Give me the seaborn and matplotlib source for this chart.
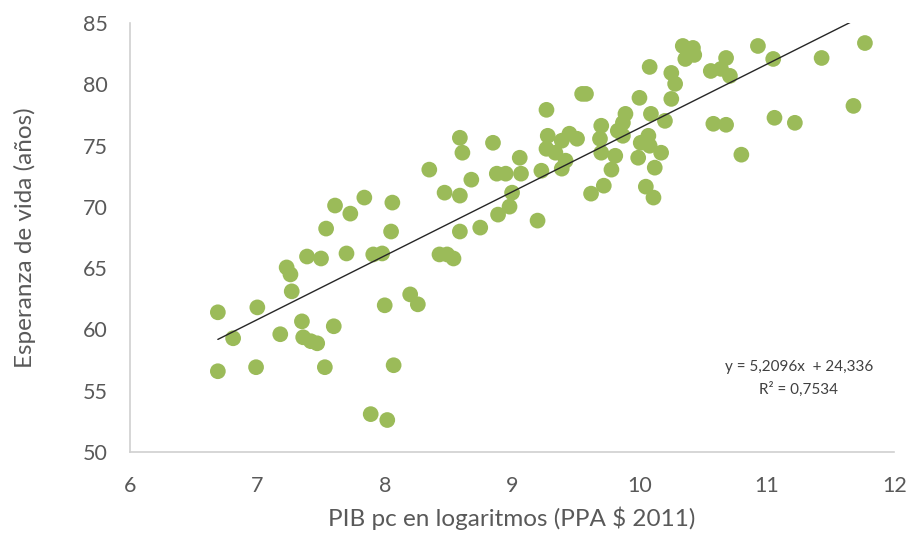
import numpy as np
import pandas as pd
import matplotlib
matplotlib.use("Agg")
import matplotlib.pyplot as plt
import seaborn as sns

# --- data ---
pib_log = [
    6.69, 6.69, 6.81, 7.00, 6.99, 7.18, 7.23, 7.26, 7.27, 7.35,
    7.36, 7.39, 7.42, 7.47, 7.50, 7.53, 7.54, 7.60, 7.61, 7.73,
    7.70, 7.84, 7.89, 7.91, 7.98, 8.00, 8.02, 8.05, 8.06, 8.07,
    8.20, 8.26,
    8.35, 8.47, 8.43, 8.49, 8.54, 8.59, 8.61, 8.59, 8.59, 8.68,
    8.75, 8.85, 8.88, 8.89, 8.95, 8.98, 9.00, 9.06, 9.07, 9.20,
    9.23, 9.27, 9.55, 9.58, 9.28, 9.27, 9.39, 9.45, 9.51, 9.34,
    9.42, 9.39, 9.70, 9.69, 9.70, 9.81, 9.78, 9.72, 9.62, 9.89,
    9.87, 9.83, 9.87, 10.00, 10.09, 10.20, 10.07, 10.01, 10.08, 9.99,
    10.17, 10.12, 10.05, 10.11, 10.28, 10.25,
    10.34, 10.42, 10.36, 10.43, 10.08, 10.25, 10.68, 10.56, 10.64, 10.71,
    10.93, 11.05, 11.43, 11.77, 10.58, 10.68, 11.06, 11.22, 11.68, 10.80,
]
esperanza = [
    61.40, 56.59, 59.28, 61.80, 56.92, 59.61, 65.06, 64.49, 63.11, 60.66,
    59.36, 65.95, 59.04, 58.87, 65.79, 56.92, 68.23, 60.26, 70.11, 69.45,
    66.20, 70.76, 53.09, 66.12, 66.20, 61.97, 52.61, 67.99, 70.35, 57.08,
    62.86, 62.05,
    73.04, 71.16, 66.12, 66.12, 65.79, 75.64, 74.42, 70.92, 67.99, 72.22,
    68.31, 75.23, 72.71, 69.37, 72.71, 70.02, 71.16, 74.01, 72.71, 68.88,
    72.95, 77.92, 79.22, 79.22, 75.80, 74.74, 75.40, 75.97, 75.56, 74.42,
    73.77, 73.12, 76.62, 75.56, 74.42, 74.17, 73.04, 71.73, 71.08, 77.59,
    76.86, 76.21, 75.80, 78.90, 77.59, 77.02, 75.80, 75.23, 74.99, 74.01,
    74.42, 73.20, 71.65, 70.76, 80.04, 78.81,
    83.13, 82.97, 82.07, 82.40, 81.42, 80.93, 82.15, 81.09, 81.26, 80.69,
    83.13, 82.07, 82.15, 83.37, 76.78, 76.70, 77.27, 76.86, 78.24, 74.26,
]
slope = 5.2096
intercept = 24.336
x_ticks = [6, 7, 8, 9, 10, 11, 12]
y_ticks = [50, 55, 60, 65, 70, 75, 80, 85]
eq_label = "y = 5,2096x  + 24,336"
r2_label = "R² = 0,7534"
x_title = "PIB pc en logaritmos (PPA $ 2011)"
y_title = "Esperanza de vida (años)"

df = pd.DataFrame({"pib": pib_log, "esp": esperanza})

sns.set_theme(style="white")
plt.rcParams["font.family"] = ["Lato", "DejaVu Sans"]

fig = plt.figure(figsize=(9.12, 5.36), dpi=100)
ax = fig.add_axes([0.1425, 0.1567, 0.838, 0.8003])

sns.scatterplot(data=df, x="pib", y="esp", ax=ax, color="#9BBB59",
                s=128, edgecolor="none", linewidth=0, zorder=2, legend=False)

xl = np.array([min(pib_log), max(pib_log)])
ax.plot(xl, slope * xl + intercept, color="#262626", linewidth=1.0, zorder=3)

ax.set_xlim(6, 12)
ax.set_ylim(50, 85)
ax.set_xticks(x_ticks)
ax.set_yticks(y_ticks)
ax.set_xticklabels([str(t) for t in x_ticks])
ax.set_yticklabels([str(t) for t in y_ticks])
ax.tick_params(axis="both", length=0, labelsize=15.5, labelcolor="#595959")
ax.tick_params(axis="x", pad=17)
ax.tick_params(axis="y", pad=16)

for side in ["top", "right"]:
    ax.spines[side].set_visible(False)
for side in ["left", "bottom"]:
    ax.spines[side].set_color("#D0D0D0")
    ax.spines[side].set_linewidth(1.2)

ax.set_xlabel(x_title, fontsize=17.5, color="#595959", labelpad=8)
ax.set_ylabel(y_title, fontsize=17.5, color="#595959", labelpad=34)

ax.text(11.25, 56.9, eq_label, ha="center", va="center", fontsize=11, color="#404040")
ax.text(11.25, 55.1, r2_label, ha="center", va="center", fontsize=11, color="#404040")

fig.savefig("out.png", dpi=100)
